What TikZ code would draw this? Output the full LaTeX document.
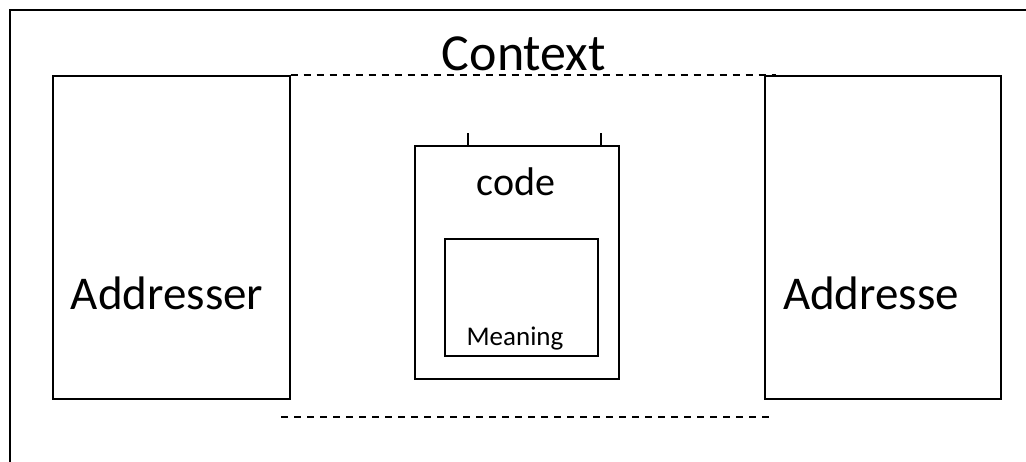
\documentclass[tikz,border=0pt]{standalone}
\usepackage{fontspec}
\setmainfont{Carlito}
\begin{document}
\begin{tikzpicture}[x=1pt,y=-1pt,
  box/.style={draw,line width=1.5pt,inner sep=0pt,anchor=north west},
  dashline/.style={line width=1.5pt,dash pattern=on 7pt off 6pt},
  lbl/.style={inner sep=0pt,anchor=base}]
\useasboundingbox (0,0) rectangle (1026,461);
\clip (0,0) rectangle (1026,461);
% outer frame
\coordinate (fTL) at (10,10);
\coordinate (fTR) at (1030,10);
\coordinate (fBL) at (10,470);
\draw[line width=1.5pt] (fTR) -- (fTL) -- (fBL);
% boxes
\node[box,minimum width=237pt,minimum height=323pt] (ader) at (52,75) {};
\node[box,minimum width=236pt,minimum height=323pt] (adee) at (764,75) {};
\node[box,minimum width=204pt,minimum height=233pt] (code) at (414,145) {};
\node[box,minimum width=153pt,minimum height=117pt] (mean) at (444,238) {};
% labels
\node[lbl,font=\fontsize{52}{56}\selectfont] (ctx) at (524,70) {Context};
\node[lbl,font=\fontsize{47}{50}\selectfont] (tA) at (167,309) {Addresser};
\node[lbl,font=\fontsize{47}{50}\selectfont] (tB) at (871,309) {Addresse};
\node[lbl,font=\fontsize{40}{44}\selectfont] (tC) at (516,195) {code};
\node[lbl,font=\fontsize{27}{30}\selectfont] (tM) at (515,345) {Meaning};
% dashed lines
\coordinate (d1e) at (776,75);
\coordinate (d2s) at (281,417);
\coordinate (d2e) at (770,417);
\draw[dashline] (ader.north east) -- (d1e);
\draw[dashline] (d2s) -- (d2e);
% ticks
\coordinate (t1) at (468,133);
\coordinate (t2) at (601,133);
\draw[line width=2.5pt] (t1) -- (t1 |- code.north);
\draw[line width=2.5pt] (t2) -- (t2 |- code.north);
\end{tikzpicture}
\end{document}
